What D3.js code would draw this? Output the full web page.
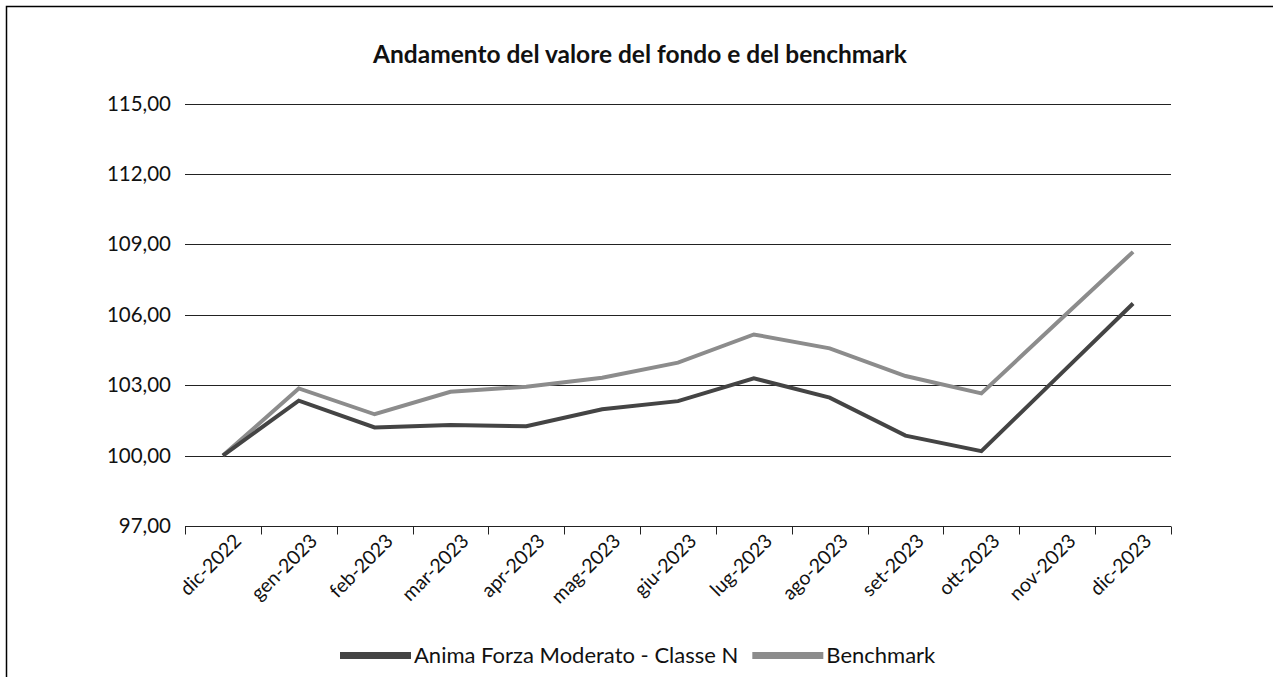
<!doctype html>
<html lang="it">
<head>
<meta charset="utf-8">
<script src="https://d3js.org/d3.v7.min.js"></script>
<style>
  body { margin: 0; background: #fff; }
  svg { display: block; font-family: Lato, "Open Sans", sans-serif; }
</style>
</head>
<body>
<div id="chart"></div>
<script>
// months on the x axis
var months = ["dic-2022", "gen-2023", "feb-2023", "mar-2023", "apr-2023", "mag-2023", "giu-2023",
              "lug-2023", "ago-2023", "set-2023", "ott-2023", "nov-2023", "dic-2023"];
// fund values (base 100)
var fondo = [100.00, 102.34, 101.20, 101.30, 101.25, 101.97, 102.32, 103.29, 102.47, 100.85, 100.19, 103.33, 106.48];
// benchmark values (base 100)
var benchmark = [100.00, 102.86, 101.76, 102.72, 102.93, 103.32, 103.96, 105.16, 104.57, 103.39, 102.65, 105.67, 108.68];
var yTicks = [97, 100, 103, 106, 109, 112, 115];
var seriesNames = ["Anima Forza Moderato - Classe N", "Benchmark"];
var seriesColors = ["#444444", "#8c8c8c"];

var width = 1273, height = 677;
var svg = d3.select("#chart").append("svg")
    .attr("width", width)
    .attr("height", height);

// outer frame
svg.append("rect")
    .attr("x", 6.5).attr("y", 6.5)
    .attr("width", 1400).attr("height", 800)
    .attr("fill", "none").attr("stroke", "#000").attr("stroke-width", 1.5);

svg.append("text")
    .attr("x", 640).attr("y", 63)
    .attr("text-anchor", "middle")
    .attr("font-size", 24.5).attr("font-weight", "bold")
    .attr("fill", "#111")
    .text("Andamento del valore del fondo e del benchmark");

var plotLeft = 185, plotRight = 1171, plotTop = 103.5, plotBottom = 526;

var x = d3.scaleBand().domain(months).range([plotLeft, plotRight]);
var y = d3.scaleLinear().domain([97, 115]).range([plotBottom, plotTop]);

// gridlines
svg.append("g")
  .selectAll("line")
  .data(yTicks.slice(1))
  .enter().append("line")
    .attr("x1", plotLeft).attr("x2", plotRight)
    .attr("y1", function(d) { return Math.round(y(d)) + 0.5; })
    .attr("y2", function(d) { return Math.round(y(d)) + 0.5; })
    .attr("stroke", "#222").attr("stroke-width", 1);

// y axis labels
var yAxis = svg.append("g")
    .attr("transform", "translate(" + plotLeft + ",0)")
    .call(d3.axisLeft(y).tickValues(yTicks).tickSize(0).tickPadding(14)
      .tickFormat(function(d) { return d3.format(".2f")(d).replace(".", ","); }));
yAxis.select(".domain").remove();
yAxis.selectAll("text").attr("font-size", 20.5).attr("fill", "#111").attr("font-family", "Lato, sans-serif");

// x axis with ticks on band edges
var xAxisG = svg.append("g").attr("transform", "translate(0," + (Math.round(plotBottom) + 0.5) + ")");
xAxisG.append("line")
    .attr("x1", plotLeft).attr("x2", plotRight)
    .attr("stroke", "#222");
xAxisG.selectAll("line.tick")
  .data(months.concat(["end"]))
  .enter().append("line")
    .attr("class", "tick")
    .attr("x1", function(d, i) { return Math.round(plotLeft + i * x.step()) + 0.5; })
    .attr("x2", function(d, i) { return Math.round(plotLeft + i * x.step()) + 0.5; })
    .attr("y1", 0).attr("y2", 8)
    .attr("stroke", "#222");
xAxisG.selectAll("text")
  .data(months)
  .enter().append("text")
    .attr("transform", function(d) {
      return "translate(" + (x(d) + x.bandwidth() / 2 + 10) + ",6) rotate(-45)";
    })
    .attr("text-anchor", "end")
    .attr("dy", "0.7em")
    .attr("font-size", 19.5).attr("fill", "#111")
    .text(function(d) { return d; });

var line = d3.line()
    .x(function(d, i) { return x(months[i]) + x.bandwidth() / 2; })
    .y(function(d) { return y(d); });

// benchmark first, fund drawn on top
[benchmark, fondo].forEach(function(s) {
  var k = s === fondo ? 0 : 1;
  svg.append("path")
    .datum(s)
    .attr("d", line)
    .attr("fill", "none")
    .attr("stroke", seriesColors[k])
    .attr("stroke-width", 4)
    .attr("stroke-linejoin", "miter");
});

// legend
var legend = svg.append("g").attr("transform", "translate(0,655)");
var lx = 340;
seriesNames.forEach(function(name, k) {
  legend.append("rect")
    .attr("x", lx).attr("y", -3)
    .attr("width", 71).attr("height", 7)
    .attr("fill", seriesColors[k]);
  var t = legend.append("text")
    .attr("x", lx + 74).attr("y", 0)
    .attr("dy", "0.35em")
    .attr("font-size", 22).attr("fill", "#111")
    .text(name);
  lx = lx + 74 + t.node().getComputedTextLength() + 14;
});
</script>
</body>
</html>
